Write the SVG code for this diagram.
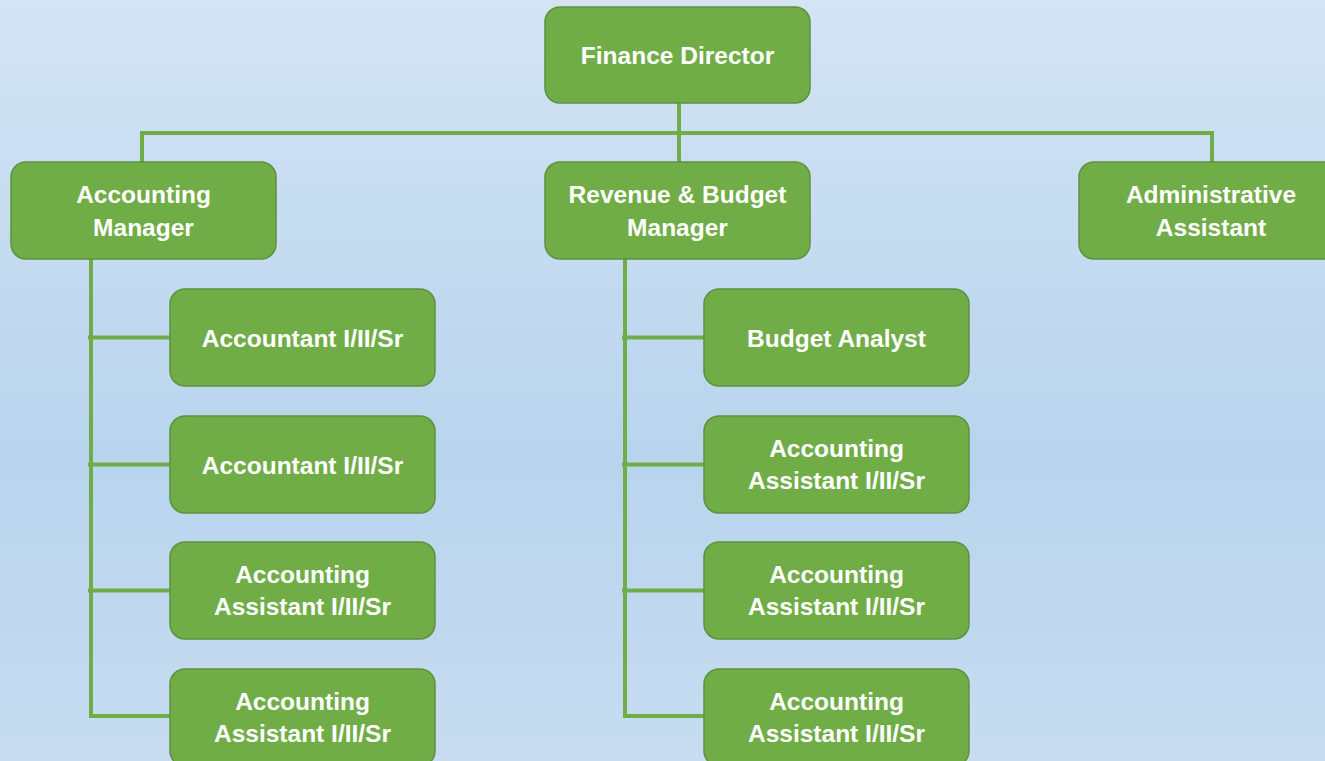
<svg xmlns="http://www.w3.org/2000/svg" width="1325" height="761" viewBox="0 0 1325 761">
<defs>
<linearGradient id="bg" x1="0" y1="0" x2="0" y2="1">
<stop offset="0" stop-color="#d3e4f4"/>
<stop offset="0.6" stop-color="#b8d4ed"/>
<stop offset="1" stop-color="#c7dcf1"/>
</linearGradient>
<style>
.box{fill:#70ad47;stroke:#5e9140;stroke-width:1.5}
.lbl{font-family:"Liberation Sans",Arial,sans-serif;font-weight:bold;font-size:24.5px;fill:#ffffff;text-anchor:middle}
.conn{stroke:#70ad47;stroke-width:4;fill:none}
</style>
</defs>
<rect x="0" y="0" width="1325" height="761" fill="url(#bg)"/>
<g id="connectors" class="conn">
<path d="M679 103 V133 M142 133 H1212 M142 131 V162 M679 131 V162 M1212 131 V162"/>
<path d="M91 259 V717 M88 337.5 H170 M88 464.5 H170 M88 590.5 H170 M89 716 H170"/>
<path d="M625 259 V717 M622 337.5 H704 M622 464.5 H704 M622 590.5 H704 M623 716 H704"/>
</g>
<g id="finance-director"><rect class="box" x="545" y="7" width="265" height="96" rx="15"/><text class="lbl" x="677.5" y="64">Finance Director</text></g>
<g id="accounting-manager"><rect class="box" x="11" y="162" width="265" height="97" rx="15"/><text class="lbl" x="143.5" y="203">Accounting</text><text class="lbl" x="143.5" y="236">Manager</text></g>
<g id="revenue-budget-manager"><rect class="box" x="545" y="162" width="265" height="97" rx="15"/><text class="lbl" x="677.5" y="203">Revenue &amp; Budget</text><text class="lbl" x="677.5" y="236">Manager</text></g>
<g id="administrative-assistant"><rect class="box" x="1079" y="162" width="266" height="97" rx="15"/><text class="lbl" x="1211" y="203">Administrative</text><text class="lbl" x="1211" y="236">Assistant</text></g>
<g id="accountant-1"><rect class="box" x="170" y="289" width="265" height="97" rx="15"/><text class="lbl" x="302.5" y="346.5">Accountant I/II/Sr</text></g>
<g id="accountant-2"><rect class="box" x="170" y="416" width="265" height="97" rx="15"/><text class="lbl" x="302.5" y="473.5">Accountant I/II/Sr</text></g>
<g id="accounting-assistant-1"><rect class="box" x="170" y="542" width="265" height="97" rx="15"/><text class="lbl" x="302.5" y="583">Accounting</text><text class="lbl" x="302.5" y="615">Assistant I/II/Sr</text></g>
<g id="accounting-assistant-2"><rect class="box" x="170" y="669" width="265" height="97" rx="15"/><text class="lbl" x="302.5" y="710">Accounting</text><text class="lbl" x="302.5" y="742">Assistant I/II/Sr</text></g>
<g id="budget-analyst"><rect class="box" x="704" y="289" width="265" height="97" rx="15"/><text class="lbl" x="836.5" y="346.5">Budget Analyst</text></g>
<g id="accounting-assistant-3"><rect class="box" x="704" y="416" width="265" height="97" rx="15"/><text class="lbl" x="836.5" y="457">Accounting</text><text class="lbl" x="836.5" y="489">Assistant I/II/Sr</text></g>
<g id="accounting-assistant-4"><rect class="box" x="704" y="542" width="265" height="97" rx="15"/><text class="lbl" x="836.5" y="583">Accounting</text><text class="lbl" x="836.5" y="615">Assistant I/II/Sr</text></g>
<g id="accounting-assistant-5"><rect class="box" x="704" y="669" width="265" height="97" rx="15"/><text class="lbl" x="836.5" y="710">Accounting</text><text class="lbl" x="836.5" y="742">Assistant I/II/Sr</text></g>
</svg>
